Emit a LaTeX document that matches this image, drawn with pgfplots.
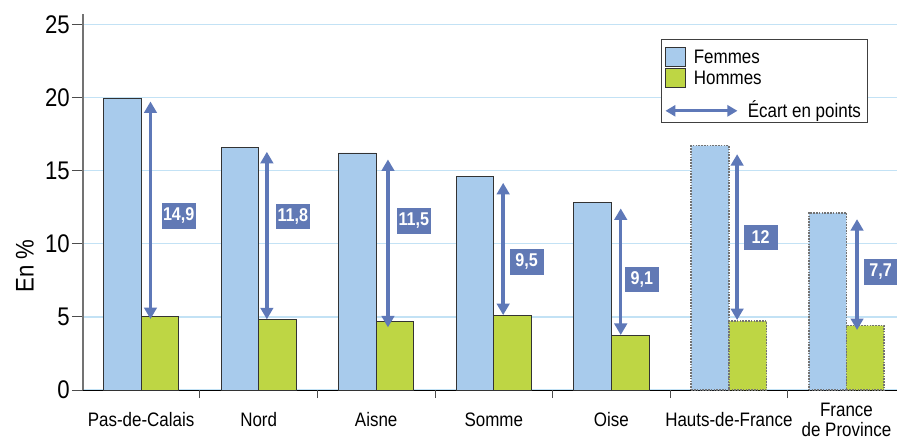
\documentclass[border=0pt]{standalone}
\usepackage{fontspec}
\setmainfont{Liberation Sans}[FakeStretch=0.87]
\usepackage{pgfplots}
\pgfplotsset{compat=1.18}
\usepackage{pgfplotstable}
\usetikzlibrary{arrows.meta}

\definecolor{femmes}{HTML}{A8CBEC}
\definecolor{hommes}{HTML}{BED644}
\definecolor{gridc}{HTML}{C3E2F5}
\definecolor{arrowc}{HTML}{5E78B8}
\definecolor{labc}{HTML}{6179B5}
\definecolor{dotc}{HTML}{737373}

% departements
\pgfplotstableread{
x F H
0 19.9 5.0
1 16.6 4.8
2 16.2 4.7
3 14.6 5.1
4 12.8 3.7
}\regions
% Hauts-de-France, France de province
\pgfplotstableread{
x F H
5 16.7 4.7
6 12.1 4.4
}\totals
% arrows (foot, length) and gap labels
\pgfplotstableread{
ax ya v lx ly lab
0.08 4.85 14.87 0.32 11.90 14,9
1.07 4.83 11.45 1.29 11.85 11,8
2.10 4.28 11.48 2.32 11.56 11,5
3.08 5.12 9.04 3.28 8.76 9,5
4.08 3.76 8.65 4.26 7.56 9,1
5.07 4.78 11.34 5.27 10.43 12
6.09 4.10 7.58 6.29 8.08 7,7
}\gaps

\begin{document}
\begin{tikzpicture}
\begin{axis}[
  name=ax,
  scale only axis,
  width=814pt, height=376pt,
  xmin=-0.494, xmax=6.43,
  ymin=0, ymax=25.7,
  clip=false,
  axis x line*=bottom,
  axis y line*=left,
  x axis line style={black, line width=1pt},
  y axis line style={black!55, line width=1.2pt},
  tick align=outside,
  major tick length=11pt,
  ytick={0,5,...,25},
  ytick style={draw=black!70, line width=0.8pt},
  yticklabel style={font=\fontsize{25.5}{25.5}\selectfont, inner xsep=2pt},
  /pgf/number format/assume math mode=true,
  ymajorgrids,
  grid style={gridc, line width=1.3pt},
  xtick={0,...,6},
  xticklabels={Pas-de-Calais,Nord,Aisne,Somme,Oise,Hauts-de-France,{France\\de Province}},
  xtick style={draw=none},
  xticklabel style={font=\fontsize{19.5}{20.5}\selectfont, align=center, anchor=center, yshift=-19pt},
  extra x ticks={-0.5,0.5,...,5.5},
  extra x tick labels={},
  extra x tick style={xtick style={draw=black!70, line width=0.8pt}, major tick length=8pt},
  ylabel={En \%},
  ylabel style={font=\fontsize{25.5}{25.5}\selectfont, at={(axis description cs:-0.0713,0.33)}, anchor=center},
  legend style={at={(axis description cs:0.9635,0.9327)}, anchor=north east,
    font=\fontsize{19.5}{20}\selectfont, draw=black!75, line width=0.6pt,
    inner xsep=4pt, inner ysep=2pt, row sep=1pt, column sep=6pt},
  legend cell align=left,
]
% gridlines sit behind, bars on top
\addplot[forget plot, ybar, bar width=0.32, bar shift=-0.16, fill=femmes, draw=black!80, line width=0.8pt] table[x=x, y=F] {\regions};
\addplot[forget plot, ybar, bar width=0.32, bar shift=0.16, fill=hommes, draw=black!80, line width=0.8pt] table[x=x, y=H] {\regions};
\addplot[forget plot, ybar, bar width=0.32, bar shift=-0.16, fill=femmes, draw=dotc, line width=1.6pt, dash pattern=on 1.6pt off 1.2pt] table[x=x, y=F] {\totals};
\addplot[forget plot, ybar, bar width=0.32, bar shift=0.16, fill=hommes, draw=dotc, line width=1.6pt, dash pattern=on 1.6pt off 1.2pt] table[x=x, y=H] {\totals};

\addplot[forget plot, arrowc, line width=3.5pt,
  arrows={Triangle[width=12.5pt,length=11.5pt]-Triangle[width=12.5pt,length=11.5pt]},
  quiver={u=0, v=\thisrow{v}}] table[x=ax, y=ya] {\gaps};

\addplot[forget plot, draw=none, mark=none, nodes near coords, point meta=explicit symbolic,
  nodes near coords style={anchor=center, fill=labc, text=white,
    font=\bfseries\fontsize{18.5}{18.5}\selectfont, minimum width=34pt, minimum height=25.5pt, inner sep=1.5pt}]
  table[x=lx, y=ly, meta=lab] {\gaps};

\addlegendimage{legend image code/.code={\draw[fill=femmes, draw=black!80, line width=0.8pt] (0pt,-12.5pt) rectangle (20pt,6.5pt);}}
\addlegendentry{\raisebox{0pt}[20pt][0pt]{Femmes}}
\addlegendimage{legend image code/.code={\draw[fill=hommes, draw=black!80, line width=0.8pt] (0pt,-9.5pt) rectangle (20pt,9.5pt);}}
\addlegendentry{Hommes}
\addlegendimage{legend image code/.code={\draw[overlay, arrowc, line width=3pt, arrows={Triangle[width=11pt,length=10pt]-Triangle[width=11pt,length=10pt]}] (0pt,-6pt) -- (72pt,-6pt);}}
\addlegendentry{\hspace*{54pt}\raisebox{0pt}[26pt][0pt]{Écart en points}}
\end{axis}
\pgfresetboundingbox
\path[use as bounding box] ([shift={(-83pt,-49pt)}]ax.south west) rectangle ([shift={(0pt,14pt)}]ax.north east);
\end{tikzpicture}
\end{document}
